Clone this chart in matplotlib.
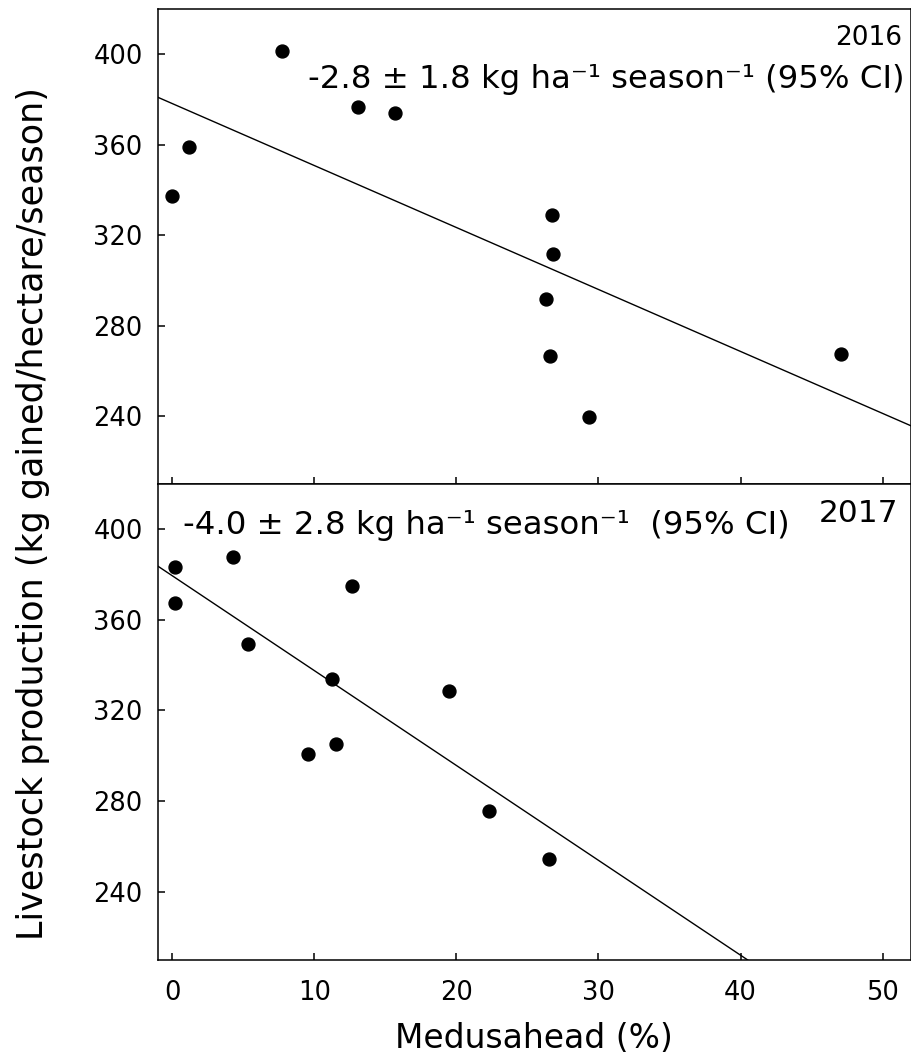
import matplotlib
matplotlib.use("Agg")
import matplotlib.pyplot as plt

# ---- data ----
medusa_2016 = [0.0, 1.2, 7.7, 13.1, 15.7, 26.7, 26.8, 26.3, 26.6, 29.3, 47.1]
prod_2016 = [337.5, 358.8, 401.6, 376.6, 374.2, 329.1, 311.8, 292.0, 266.6, 239.6, 267.5]
medusa_2017 = [0.23, 0.2, 4.27, 5.36, 12.67, 11.27, 9.56, 11.5, 19.5, 22.3, 26.5]
prod_2017 = [383.2, 367.5, 387.8, 349.5, 374.9, 333.7, 300.6, 305.0, 328.8, 275.8, 254.2]

fit_2016 = (378.2, -2.74)   # intercept, slope
fit_2017 = (379.5, -4.19)

x_ticks = [0, 10, 20, 30, 40, 50]
y_ticks = [240, 280, 320, 360, 400]
x_limits = (-1.0, 52.0)
y_limits = (210, 420)

label_2016 = "2016"
label_2017 = "2017"
ci_2016 = "-2.8 \u00b1 1.8 kg ha\u207b\u00b9 season\u207b\u00b9 (95% CI)"
ci_2017 = "-4.0 \u00b1 2.8 kg ha\u207b\u00b9 season\u207b\u00b9  (95% CI)"
x_label = "Medusahead (%)"
y_label = "Livestock production (kg gained/hectare/season)"

plt.rcParams['font.family'] = ['DejaVu Sans']

fig = plt.figure(figsize=(9.12, 10.6), dpi=100)
ax_top = fig.add_axes([0.17325, 0.54340, 0.8257, 0.44811])
ax_bot = fig.add_axes([0.17325, 0.09481, 0.8257, 0.44858])

def style(ax, show_xlabels):
    ax.set_xlim(*x_limits)
    ax.set_ylim(*y_limits)
    ax.set_xticks(x_ticks)
    ax.set_yticks(y_ticks)
    for s in ax.spines.values():
        s.set_linewidth(1.1)
    ax.tick_params(direction='in', length=5, width=1.1, labelsize=18.5,
                   top=False, right=False)
    ax.tick_params(axis='y', pad=11)
    ax.tick_params(axis='x', pad=15, labelbottom=show_xlabels)

for ax, xs, ys, fit in [(ax_top, medusa_2016, prod_2016, fit_2016),
                        (ax_bot, medusa_2017, prod_2017, fit_2017)]:
    b0, b1 = fit
    lx = list(x_limits)
    ax.plot(lx, [b0 + b1 * v for v in lx], color='black', lw=1.0, zorder=2)
    ax.plot(xs, ys, 'o', color='black', ms=9.3, mec='black', zorder=3, clip_on=False)

style(ax_top, False)
style(ax_bot, True)

ax_top.text(0.988, 0.924, label_2016, transform=ax_top.transAxes,
            ha='right', va='baseline', fontsize=19)
ax_top.text(0.991, 0.833, ci_2016, transform=ax_top.transAxes,
            ha='right', va='baseline', fontsize=23.3)
ax_bot.text(0.983, 0.921, label_2017, transform=ax_bot.transAxes,
            ha='right', va='baseline', fontsize=22.5)
ax_bot.text(0.033, 0.895, ci_2017, transform=ax_bot.transAxes,
            ha='left', va='baseline', fontsize=23.3)

fig.text(0.5855, 0.0113, x_label, ha='center', va='baseline', fontsize=23.7)
fig.text(0.036, 0.516, y_label, ha='center', va='center', rotation=90, fontsize=25.2)

fig.savefig("out.png", dpi=100)
